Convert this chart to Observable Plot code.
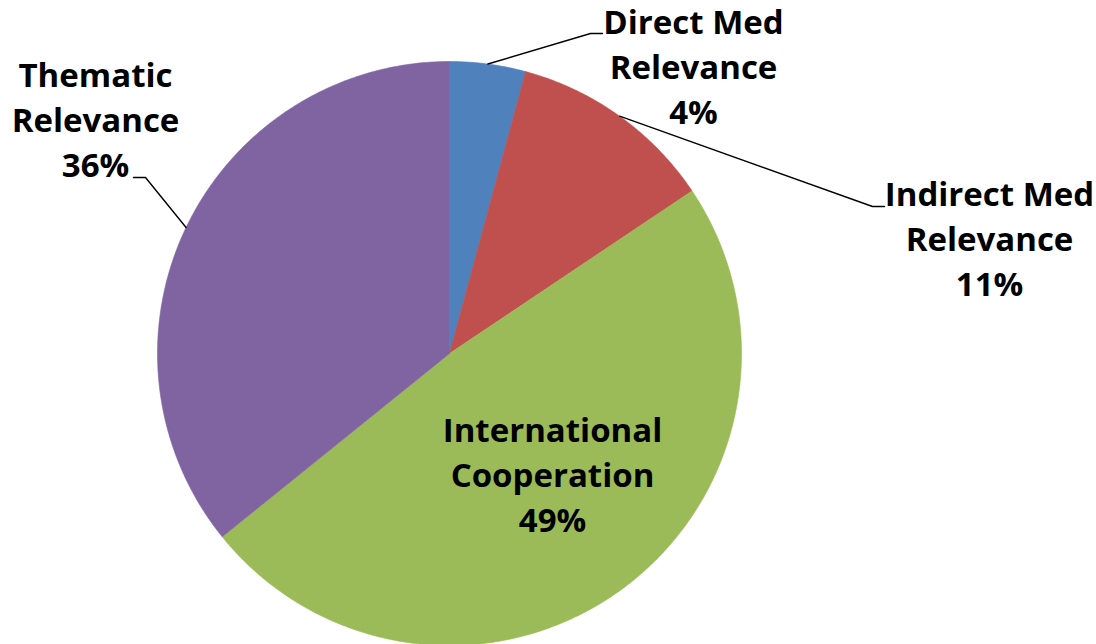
<!DOCTYPE html>
<html>
<head>
<meta charset="utf-8">
<script src="https://cdn.jsdelivr.net/npm/d3@7"></script>
<script src="https://cdn.jsdelivr.net/npm/@observablehq/plot@0.6"></script>
<style>
  html, body { margin: 0; padding: 0; background: #ffffff; }
  #chart svg { display: block; }
</style>
</head>
<body>
<div id="chart"></div>
<script>
// ---- Data ----
const categories = ["Direct Med Relevance", "Indirect Med Relevance", "International Cooperation", "Thematic Relevance"];
const labelLines = [["Direct Med", "Relevance"], ["Indirect Med", "Relevance"], ["International", "Cooperation"], ["Thematic", "Relevance"]];
const shares = [4.2, 11.4, 48.6, 35.8];
const colors = ["#4F81BD", "#C0504D", "#9BBB59", "#8064A2"];

// ---- Layout (pie radius = 1 unit) ----
const W = 1096, H = 644;
const R = 292, CX = 449, CY = 353;          // pixel placement of the pie
const toU = (px, py) => [(px - CX) / R, (CY - py) / R];
// label anchors (middle line) and leader elbow/end, in pixels, per category
const labelLayout = [
  {text: toU(693, 64),  elbow: toU(590, 33),  end: toU(602, 33),  leader: true},
  {text: toU(989, 236), elbow: toU(872, 206), end: toU(884, 206), leader: true},
  {text: toU(552, 472), elbow: null, end: null, leader: false},
  {text: toU(95, 117),  elbow: toU(145, 177), end: toU(133, 177), leader: true}
];

const pie = d3.pie().sort(null).value(d => d.value);
const table = categories.map((name, i) => ({name, value: shares[i], i}));
const arcs = pie(table);

// slice outlines
const slicePts = [];
for (const a of arcs) {
  const n = Math.max(2, Math.ceil((a.endAngle - a.startAngle) / (Math.PI / 360)));
  slicePts.push({name: a.data.name, x: 0, y: 0});
  for (let k = 0; k <= n; k++) {
    const t = a.startAngle + (a.endAngle - a.startAngle) * k / n;
    slicePts.push({name: a.data.name, x: Math.sin(t), y: Math.cos(t)});
  }
  slicePts.push({name: a.data.name, x: 0, y: 0});
}

// leader lines: from slice edge at mid-angle to elbow to end
const leaderPts = [];
arcs.forEach((a, i) => {
  const L = labelLayout[i];
  if (!L.leader) return;
  const m = (a.startAngle + a.endAngle) / 2;
  leaderPts.push({name: a.data.name, x: Math.sin(m), y: Math.cos(m)});
  leaderPts.push({name: a.data.name, x: L.elbow[0], y: L.elbow[1]});
  leaderPts.push({name: a.data.name, x: L.end[0], y: L.end[1]});
});

const labels = arcs.map((a, i) => ({
  name: a.data.name,
  x: labelLayout[i].text[0],
  y: labelLayout[i].text[1],
  text: [...labelLines[i], Math.round(a.data.value) + "%"].join("\n")
}));

const chart = Plot.plot({
  width: W,
  height: H,
  margin: 0,
  x: {domain: [-CX / R, (W - CX) / R], axis: null},
  y: {domain: [-(H - CY) / R, CY / R], axis: null},
  color: {domain: categories, range: colors},
  style: {background: "#ffffff"},
  marks: [
    Plot.line(slicePts, {x: "x", y: "y", z: "name", fill: "name", stroke: "name", strokeWidth: 0.6, curve: "linear"}),
    Plot.line(leaderPts, {x: "x", y: "y", z: "name", stroke: "#000000", strokeWidth: 1.4}),
    Plot.text(labels, {
      x: "x", y: "y", text: "text",
      fontSize: 33, fontWeight: "bold", fontFamily: "'Open Sans', Lato, sans-serif",
      lineHeight: 45 / 33, lineAnchor: "middle", textAnchor: "middle", fill: "#000000"
    })
  ]
});
document.getElementById("chart").appendChild(chart);
</script>
</body>
</html>
